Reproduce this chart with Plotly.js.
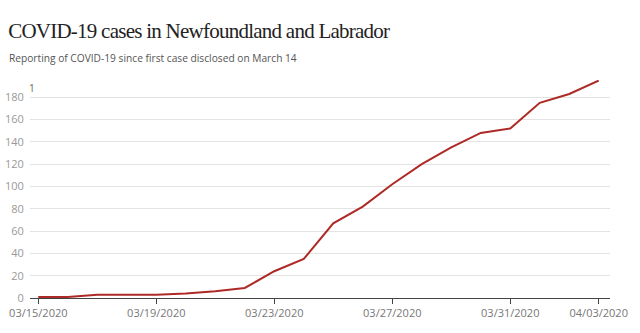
<!DOCTYPE html>
<html>
<head>
<meta charset="utf-8">
<script src="https://cdn.plot.ly/plotly-3.0.1.min.js"></script>
<style>
html,body{margin:0;padding:0;background:#fff}#chart{width:640px;height:333px}
.annotation[data-index="0"] text{letter-spacing:-0.75px}
</style>
</head>
<body>
<div id="chart"></div>
<script>
const dates = ['2020-03-15','2020-03-16','2020-03-17','2020-03-18','2020-03-19','2020-03-20','2020-03-21','2020-03-22','2020-03-23','2020-03-24','2020-03-25','2020-03-26','2020-03-27','2020-03-28','2020-03-29','2020-03-30','2020-03-31','2020-04-01','2020-04-02','2020-04-03'];
const cases = [1,1,3,3,3,4,6,9,24,35,67,82,102,120,135,148,152,175,183,195];
const xTickVals = ['2020-03-15','2020-03-19','2020-03-23','2020-03-27','2020-03-31','2020-04-03'];
const xTickText = ['03/15/2020','03/19/2020','03/23/2020','03/27/2020','03/31/2020','04/03/2020'];
const yTickVals = [0,20,40,60,80,100,120,140,160,180];
const titleText = 'COVID-19 cases in Newfoundland and Labrador';
const subtitleText = 'Reporting of COVID-19 since first case disclosed on March 14';

const L = 30, R = 30, T = 80, B = 35, W = 640, H = 333;
const pw = W - L - R, ph = H - T - B;
function px(x){ return (x - L) / pw; }
function py(y){ return (H - B - y) / ph; }

Plotly.newPlot('chart', [{
  x: dates, y: cases, type: 'scatter', mode: 'lines',
  line: {color: '#ad2a26', width: 2},
  hoverinfo: 'skip'
}], {
  width: W, height: H,
  margin: {l: L, r: R, t: T, b: B, pad: 0},
  paper_bgcolor: '#fff', plot_bgcolor: '#fff',
  showlegend: false,
  xaxis: {
    type: 'date',
    range: ['2020-03-14 17:15', '2020-04-03 09:10'],
    tickvals: xTickVals, ticktext: xTickText,
    ticks: 'outside', ticklen: 5, tickcolor: '#444', tickwidth: 1,
    showline: true, linecolor: '#444', linewidth: 1,
    showgrid: false, zeroline: false,
    tickfont: {family: 'Open Sans, sans-serif', size: 11, color: '#777'}
  },
  yaxis: {
    range: [0, 195.5],
    tickvals: yTickVals,
    ticks: 'outside', ticklen: 3, tickcolor: 'rgba(0,0,0,0)',
    showgrid: true, gridcolor: '#e3e3e3', gridwidth: 1,
    zeroline: false, showline: false,
    tickfont: {family: 'Open Sans, sans-serif', size: 11, color: '#999'}
  },
  annotations: [
    {text: titleText, xref: 'paper', yref: 'paper', x: px(-10), y: py(45), xanchor: 'left', yanchor: 'bottom', showarrow: false,
     font: {family: 'Liberation Serif, serif', size: 21, color: '#222'}},
    {text: subtitleText, xref: 'paper', yref: 'paper', x: px(7), y: py(67), xanchor: 'left', yanchor: 'bottom', showarrow: false,
     font: {family: 'Open Sans, sans-serif', size: 10.2, color: '#555'}},
    {text: '1', xref: 'paper', yref: 'paper', x: px(32), y: py(97), xanchor: 'center', yanchor: 'bottom', showarrow: false,
     font: {family: 'Open Sans, sans-serif', size: 10, color: '#666'}}
  ]
}, {displayModeBar: false, staticPlot: true});
</script>
</body>
</html>
